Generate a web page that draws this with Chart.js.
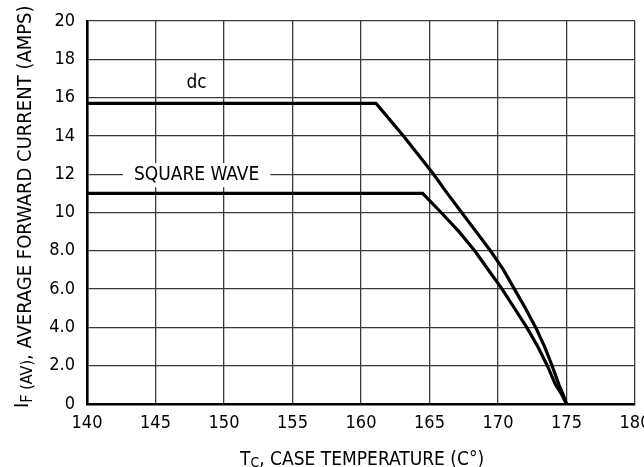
<!DOCTYPE html>
<html>
<head>
<meta charset="utf-8">
<script src="https://cdn.jsdelivr.net/npm/chart.js@4/dist/chart.umd.min.js"></script>
<style>
  html, body { margin: 0; padding: 0; background: #fff; }
  #wrap { width: 644px; height: 467px; position: relative; }
</style>
</head>
<body>
<div id="wrap"><canvas id="chartCurrent"></canvas></div>
<script>
// datos
var dcTemp    = [140, 161.1, 163.1, 165.3, 166.3, 167.35, 168.4, 169.45, 170.4, 171.2, 172.0, 172.75, 173.4, 173.95, 174.45, 174.75, 175];
var dcCurrent = [15.7, 15.7, 14.0, 12, 11, 10, 9, 8, 7, 6, 5, 4, 3, 2, 1, 0.5, 0];
var sqTemp    = [140, 164.5, 165.85, 167.15, 168.3, 169.3, 170.3, 171.2, 172.1, 172.9, 173.6, 174.2, 174.65, 175];
var sqCurrent = [11, 11, 10, 9, 8, 7, 6, 5, 4, 3, 2, 1, 0.5, 0];
var xTicks = [140, 145, 150, 155, 160, 165, 170, 175, 180];
var yTicks = [0, 2, 4, 6, 8, 10, 12, 14, 16, 18, 20];
var dcLabel = [148, 16.75];
var sqLabel = [148, 11.95];

var FAMILY = "'DejaVu Sans Condensed', 'Liberation Sans', sans-serif";

function toPoints(xs, ys) {
    return xs.map(function (v, i) { return { x: v, y: ys[i] }; });
}

// textos sobre las curvas
const curveLabels = {
    id: 'curveLabels',
    beforeDatasetsDraw(chart) {
        const ctx = chart.ctx, x = chart.scales.x, y = chart.scales.y;
        ctx.save();
        ctx.font = '19px ' + FAMILY;
        ctx.textAlign = 'center';
        ctx.textBaseline = 'middle';
        var sx = x.getPixelForValue(sqLabel[0]), sy = y.getPixelForValue(sqLabel[1]);
        var w = ctx.measureText('SQUARE WAVE').width + 22;
        ctx.fillStyle = '#fff';
        ctx.fillRect(sx - w / 2, sy - 12, w, 24);
        ctx.fillStyle = '#000';
        ctx.fillText('SQUARE WAVE', sx, sy);
        ctx.fillText('dc', x.getPixelForValue(dcLabel[0]), y.getPixelForValue(dcLabel[1]));
        ctx.restore();
    }
};

function drawParts(ctx, parts, x0) {
    var cx = x0;
    parts.forEach(function (p) {
        ctx.font = p[1] + 'px ' + FAMILY;
        ctx.fillText(p[0], cx, p[2]);
        cx += ctx.measureText(p[0]).width;
    });
}

// titulos de ejes con subindices
const axisTitles = {
    id: 'axisTitles',
    afterDraw(chart) {
        const ctx = chart.ctx;
        ctx.save();
        ctx.fillStyle = '#000';
        ctx.textBaseline = 'alphabetic';
        ctx.textAlign = 'left';
        // eje x
        ctx.save();
        ctx.translate(240, 465);
        drawParts(ctx, [['T', 19, 0], ['C', 14, 2], [', CASE TEMPERATURE (C°)', 19, 0]], 0);
        ctx.restore();
        // eje y
        ctx.translate(31, 408);
        ctx.rotate(-Math.PI / 2);
        drawParts(ctx, [['I', 20, -3], ['F (AV)', 16, 1], [', AVERAGE FORWARD CURRENT (AMPS)', 20, 0]], 0);
        ctx.restore();
    }
};

var grapharea = document.getElementById('chartCurrent');
let myChart = new Chart(grapharea, {
    type: 'scatter',
    data: {
        datasets: [{
            label: 'dc',
            data: toPoints(dcTemp, dcCurrent),
            showLine: true,
            borderColor: '#000',
            borderWidth: 3.2,
            pointRadius: 0,
            tension: 0,
            clip: false
        }, {
            label: 'SQUARE WAVE',
            data: toPoints(sqTemp, sqCurrent),
            showLine: true,
            borderColor: '#000',
            borderWidth: 3.2,
            pointRadius: 0,
            tension: 0,
            clip: false
        }]
    },
    options: {
        responsive: true,
        maintainAspectRatio: false,
        animation: false,
        layout: { padding: { left: 0, top: 21, right: 9, bottom: 0 } },
        plugins: {
            legend: { display: false },
            tooltip: { enabled: false }
        },
        scales: {
            x: {
                type: 'linear',
                min: 140,
                max: 180,
                afterBuildTicks: function (scale) {
                    scale.ticks = xTicks.map(function (v) { return { value: v }; });
                },
                afterFit: function (scale) {
                    scale.height = 63;
                    scale.paddingLeft = 0;
                    scale.paddingRight = 0;
                },
                ticks: {
                    color: '#000',
                    padding: 9,
                    maxRotation: 0,
                    autoSkip: false,
                    font: { family: FAMILY, size: 18 }
                },
                grid: { color: '#3a3a3a', lineWidth: 1.3, drawTicks: false },
                border: { color: '#000', width: 2.6 }
            },
            y: {
                type: 'linear',
                min: 0,
                max: 20,
                afterBuildTicks: function (scale) {
                    scale.ticks = yTicks.map(function (v) { return { value: v }; });
                },
                afterFit: function (scale) {
                    scale.width = 87;
                    scale.paddingTop = 0;
                    scale.paddingBottom = 0;
                },
                ticks: {
                    color: '#000',
                    padding: 12,
                    autoSkip: false,
                    font: { family: FAMILY, size: 18 },
                    callback: function (v) {
                        if (v === 0) return '0';
                        return v < 10 ? v.toFixed(1) : String(v);
                    }
                },
                grid: { color: '#3a3a3a', lineWidth: 1.3, drawTicks: false },
                border: { color: '#000', width: 2.6 }
            }
        }
    },
    plugins: [curveLabels, axisTitles]
});
</script>
</body>
</html>
